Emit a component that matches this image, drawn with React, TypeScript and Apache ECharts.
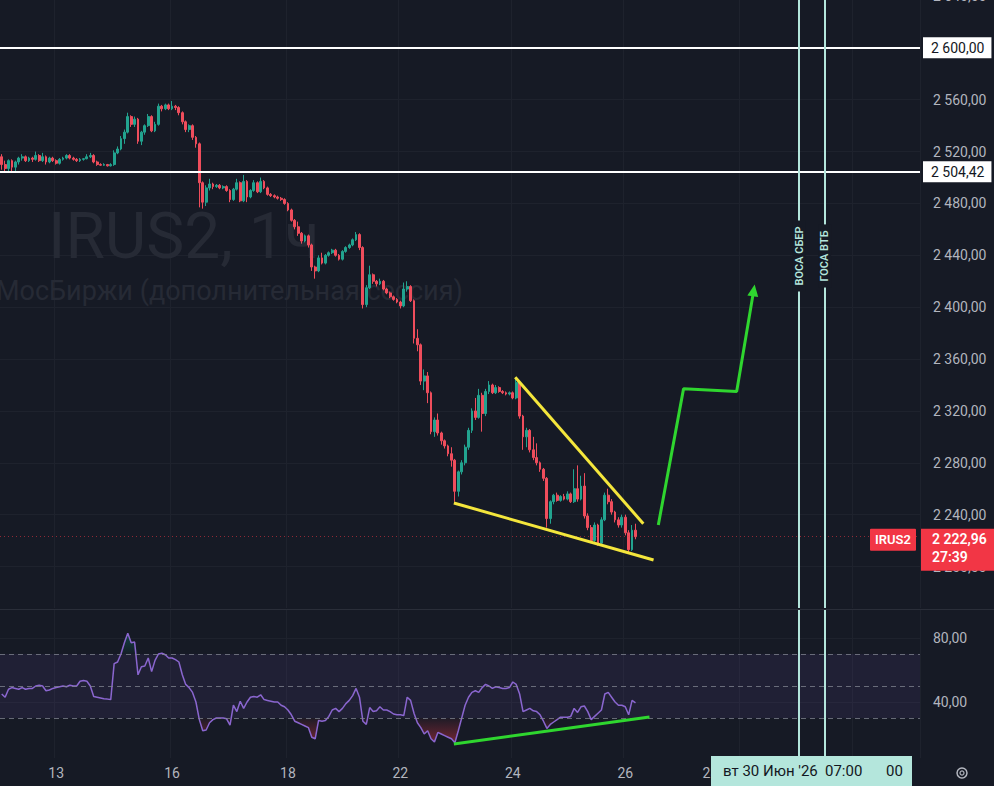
import React, { useEffect, useRef } from "react";
import * as echarts from "echarts";

// ---------- data ----------
const TOTAL_BARS = 270; // slots on the time axis, including empty future space

// hourly candles: [open, close, low, high]
const candles: number[][] = [
  [2516,2510,2506,2518],[2510,2507,2504,2513],[2507,2513,2505,2514],[2513,2508,2505,2514],[2508,2512,2504,2513],
  [2512,2515,2510,2516],[2515,2516,2513,2518],[2516,2513,2512,2517],[2513,2515,2512,2516],[2515,2514,2512,2516],
  [2514,2517,2513,2520],[2517,2513,2512,2518],[2513,2516,2512,2519],[2516,2512,2510,2517],[2512,2515,2511,2516],
  [2515,2513,2512,2516],[2513,2511,2510,2514],[2511,2514,2510,2515],[2514,2515,2513,2516],[2515,2517,2514,2518],
  [2517,2515,2514,2518],[2515,2514,2513,2516],[2514,2513,2512,2515],[2513,2514,2512,2515],[2514,2514.5,2513,2515],
  [2514.5,2516,2514,2518],[2516,2517,2515,2519],[2517,2512,2511,2518],[2512,2510,2509,2513],[2510,2509.5,2509,2511],
  [2509.5,2510,2509,2511],[2510,2509,2508.5,2510.5],[2509,2510,2508.5,2511],[2510,2519,2509,2521],[2519,2522,2518,2524],
  [2522,2530,2521,2532],[2530,2535,2526,2537],[2535,2547,2534,2550],[2547,2541,2539,2548],[2541,2545,2539,2547],
  [2545,2528,2526,2546],[2528,2535,2525,2536],[2535,2540,2533,2541],[2540,2547,2539,2549],[2547,2536,2535,2548],
  [2536,2541,2535,2543],[2541,2555,2540,2557],[2555,2553,2551,2556],[2553,2556,2552,2557],[2556,2553,2552,2557],
  [2553,2555,2552,2559],[2555,2554,2552,2556],[2554,2550,2548,2555],[2550,2543,2541,2551],[2543,2537,2535,2544],
  [2537,2540,2535,2541],[2540,2531,2529,2541],[2531,2526,2523,2532],[2526,2496,2477,2527],[2496,2481,2476,2497],
  [2481,2492,2478,2494],[2492,2495,2490,2499],[2495,2493,2491,2496],[2493,2494,2492,2495],[2494,2492,2491,2495],
  [2492,2493,2491,2494],[2493,2490,2489,2494],[2490,2483,2481,2491],[2483,2491,2482,2492],[2491,2496,2490,2499],
  [2496,2482,2481,2497],[2482,2497,2481,2502],[2497,2485,2481,2498],[2485,2490,2484,2491],[2490,2496,2489,2498],
  [2496,2489,2488,2497],[2489,2497,2488,2500],[2497,2492,2491,2498],[2492,2487,2486,2493],[2487,2486,2485,2488],
  [2486,2485,2484,2487],[2485,2484,2483,2486],[2484,2483,2482,2485],[2483,2480,2479,2484],[2480,2475,2474,2481],
  [2475,2467,2466,2476],[2467,2462,2460,2468],[2462,2457,2455,2466],[2457,2451,2449,2458],[2451,2455,2450,2456],
  [2455,2448,2446,2456],[2448,2431,2428,2449],[2431,2428,2422,2432],[2428,2438,2427,2440],[2438,2434,2433,2442],
  [2434,2440,2433,2441],[2440,2442,2439,2443],[2442,2444,2441,2445],[2444,2440,2439,2445],[2440,2437,2436,2441],
  [2437,2443,2436,2444],[2443,2446,2442,2447],[2446,2448,2445,2449],[2448,2452,2447,2453],[2452,2456,2451,2458],
  [2456,2446,2444,2457],[2446,2402,2399,2447],[2402,2415,2400,2417],[2415,2425,2414,2432],[2425,2420,2418,2426],
  [2420,2418,2416,2421],[2418,2420,2417,2422],[2420,2414,2413,2421],[2414,2411,2410,2415],[2411,2408,2407,2412],
  [2408,2406,2405,2409],[2406,2404,2403,2407],[2404,2401,2399,2405],[2401,2414,2400,2419],[2414,2416,2412,2420],
  [2416,2405,2404,2417],[2405,2376,2372,2406],[2376,2371,2366,2383],[2371,2343,2340,2372],[2343,2347,2336,2352],
  [2347,2334,2326,2350],[2334,2304,2302,2335],[2304,2313,2300,2315],[2313,2303,2301,2318],[2303,2297,2294,2304],
  [2297,2293,2291,2298],[2293,2287,2285,2294],[2287,2282,2277,2292],[2282,2258,2250,2283],[2258,2273,2254,2274],
  [2273,2280,2271,2282],[2280,2292,2278,2294],[2292,2305,2290,2307],[2305,2320,2303,2322],[2320,2315,2313,2330],
  [2315,2332,2314,2337],[2332,2318,2304,2334],[2318,2335,2316,2337],[2335,2340,2333,2343],[2340,2334,2333,2341],
  [2334,2338,2333,2340],[2338,2335,2334,2339],[2335,2334,2333,2336],[2334,2333,2332,2335],[2333,2334,2332,2335],
  [2334,2330,2329,2335],[2330,2342,2329,2346],[2342,2316,2314,2343],[2316,2300,2290,2317],[2300,2305,2292,2307],
  [2305,2290,2288,2306],[2290,2284,2282,2300],[2284,2280,2278,2295],[2280,2275,2273,2281],[2275,2268,2266,2276],
  [2268,2237,2230,2269],[2237,2250,2233,2251],[2250,2255,2248,2256],[2255,2251,2250,2257],[2251,2254,2250,2255],
  [2254,2252,2251,2256],[2252,2256,2251,2258],[2256,2250,2249,2257],[2250,2260,2249,2275],[2260,2252,2250,2278],
  [2252,2262,2251,2270],[2262,2239,2237,2272],[2239,2230,2228,2241],[2230,2220,2218,2232],[2220,2232,2219,2234],
  [2232,2218,2216,2233],[2218,2236,2217,2238],[2236,2255,2235,2257],[2255,2250,2248,2260],[2250,2242,2240,2252],
  [2242,2236,2234,2243],[2236,2232,2230,2238],[2232,2238,2230,2240],[2238,2226,2224,2240],[2226,2213,2211,2228],
  [2213,2228,2212,2232],[2228,2222.96,2221,2233],
];

// RSI(14), one value per candle
const rsi: number[] = [
  45,43,48,49,48.5,48,49,48,48.5,48.5,
  50,50.5,50,47,47.5,48.5,49,49.5,50,49.5,
  50.5,50,50,53,53.5,53,50,43.5,43,42.5,
  42,41.8,41.5,64,65,70,77,83,77,77.5,
  57,62,62.5,67.5,59,66,70,70.5,69.5,67.5,
  67.5,66.5,65,57,51,49,46,40,29,22,
  22.5,27,29,30,30,30,29.5,25.5,38,34,
  40.5,36,40,43,43.5,43,44.5,41.5,41,40.5,
  40,40,38,37,35,32,28,27,26,25,
  24,18,17,28.5,28,28.5,31,35,36,34,
  36,39,41,44,48.5,43,28,26,36.5,34,
  34.5,37,35,35,34,32.5,32,32,31.5,43,
  41,33,27,24,20,22,17,15,21,20,
  19,18,17,14.5,22,30,38,43,46,47,
  46,49,51,50,48.5,49.5,49,48.5,48.5,49,
  52.5,51,45,34,35,36,34.5,34,32,28,
  23.5,26,27.5,29,30.5,30.5,30.5,31,36,33.5,
  37,37.5,34,29,31,33,35,45,46,43,
  40,38,38,37,32,41,39.5,
];

const priceTicks = [2200, 2240, 2280, 2320, 2360, 2400, 2440, 2480, 2520, 2560, 2600, 2640];
const rsiTicks = [40, 80];
const rsiLevels = [70, 50, 30];
const dayLabels = ["13", "16", "18", "22", "24", "26", "28"];
const dayLabelBars = [16, 50, 84, 117, 150, 183, 208];
const dayGridBars = [16, 50, 84, 117, 150, 183, 217, 250];
const levelPrices = [2600, 2504.42];
const lastPrice = 2222.96;
const timeLeft = "27:39";
const symbolName = "IRUS2";

// user drawings: [bar index, price]
const wedgeUpper = [[150.7, 2346], [188.3, 2233]];
const wedgeLower = [[132.7, 2249], [191.3, 2205]];
const forecastPath = [[192.7, 2232], [200.1, 2337], [215.7, 2335], [220.7, 2413]];
const rsiTrend = [[132.7, 13.8], [190.1, 30.6]];
const eventBars = [234, 241.5];
const eventNames = ["ВОСА СБЕР", "ГОСА ВТБ"];

// ---------- style ----------
const FONT = "Roboto, 'Noto Sans', sans-serif";
const BG = "#161a25";
const GRID = "#1e222d";
const AXIS_TEXT = "#b2b5be";
const UP = "#22a38f";
const DOWN = "#ef4d5c";
const RED = "#f23645";
const EVENT = "#b3e5dc";
const YELLOW = "#f4e63c";
const GREEN = "#2fd62f";

const PRICE_MIN = 2168;
const PRICE_MAX = 2640;
const EVENT_LABEL_SPLIT = 2239;

function fmtPrice(v: number) {
  const [i, d] = Number(v).toFixed(2).split(".");
  return i.replace(/\B(?=(\d{3})+(?!\d))/g, " ") + "," + d;
}

const slots = Array.from({ length: TOTAL_BARS }, (_, i) => String(i));

function buildOption() {
  const oversoldBase = rsi.map((v) => Math.min(v, 30));
  const oversoldFill = rsi.map((v) => 30 - Math.min(v, 30));
  const overboughtBase = rsi.map(() => 70);
  const overboughtFill = rsi.map((v) => Math.max(v, 70) - 70);

  const drawingLine = (color: string) => ({
    type: "line",
    xAxisIndex: 2,
    yAxisIndex: 0,
    symbol: "none",
    silent: true,
    z: 6,
    lineStyle: { color, width: 3 },
    itemStyle: { color },
  });

  const eventMarkData: any[] = [];
  eventBars.forEach((bar, k) => {
    eventMarkData.push([
      {
        coord: [bar, EVENT_LABEL_SPLIT],
        label: {
          show: true,
          position: "insideMiddle",
          formatter: eventNames[k],
          color: EVENT,
          fontSize: 11,
          fontWeight: 600,
          fontFamily: FONT,
          backgroundColor: BG,
          padding: [1, 6],
        },
      },
      { coord: [bar, PRICE_MAX] },
    ]);
    eventMarkData.push([{ coord: [bar, EVENT_LABEL_SPLIT] }, { coord: [bar, PRICE_MIN] }]);
  });

  return {
    animation: false,
    backgroundColor: BG,
    textStyle: { fontFamily: FONT },
    grid: [
      { left: 0, right: 74, top: -4, height: 612, outerBoundsMode: "none", containLabel: false },
      { left: 0, right: 74, top: 610, height: 148, outerBoundsMode: "none", containLabel: false },
    ],
    xAxis: [
      {
        type: "category",
        gridIndex: 0,
        data: slots,
        axisLine: { show: false },
        axisTick: { show: false },
        axisLabel: { show: false },
        splitLine: {
          show: true,
          interval: (i: number) => dayGridBars.includes(i),
          lineStyle: { color: GRID, width: 1 },
        },
      },
      {
        type: "category",
        gridIndex: 1,
        data: slots,
        axisLine: { show: false },
        axisTick: { show: false },
        axisLabel: {
          show: true,
          interval: (i: number) => dayLabelBars.includes(i),
          formatter: (v: string) => {
            const k = dayLabelBars.indexOf(Number(v));
            return k >= 0 ? dayLabels[k] : "";
          },
          color: AXIS_TEXT,
          fontSize: 14,
          margin: 8,
          fontFamily: FONT,
        },
        splitLine: {
          show: true,
          interval: (i: number) => dayGridBars.includes(i),
          lineStyle: { color: GRID, width: 1 },
        },
      },
      { type: "value", gridIndex: 0, min: -0.5, max: TOTAL_BARS - 0.5, show: false },
      { type: "value", gridIndex: 1, min: -0.5, max: TOTAL_BARS - 0.5, show: false },
    ],
    yAxis: [
      {
        type: "value",
        gridIndex: 0,
        position: "right",
        min: PRICE_MIN,
        max: PRICE_MAX,
        axisLine: { show: false },
        axisTick: { show: false, customValues: priceTicks },
        axisLabel: {
          customValues: priceTicks,
          formatter: (v: number) => fmtPrice(v),
          color: AXIS_TEXT,
          fontSize: 14,
          margin: 13,
          fontFamily: FONT,
        },
        splitLine: { show: true, lineStyle: { color: GRID, width: 1 } },
      },
      {
        type: "value",
        gridIndex: 1,
        position: "right",
        min: 5,
        max: 97.5,
        axisLine: { show: false },
        axisTick: { show: false, customValues: rsiTicks },
        axisLabel: {
          customValues: rsiTicks,
          formatter: (v: number) => fmtPrice(v),
          color: AXIS_TEXT,
          fontSize: 14,
          margin: 13,
          fontFamily: FONT,
        },
        splitLine: { show: true, lineStyle: { color: GRID, width: 1 } },
      },
    ],
    series: [
      {
        type: "candlestick",
        xAxisIndex: 0,
        yAxisIndex: 0,
        data: candles,
        barWidth: "68%",
        silent: true,
        itemStyle: {
          color: UP,
          color0: DOWN,
          borderColor: UP,
          borderColor0: DOWN,
          borderWidth: 1,
        },
        markLine: {
          silent: true,
          symbol: ["none", "none"],
          data: [
            ...levelPrices.map((p) => ({
              yAxis: p,
              lineStyle: { color: "#ffffff", width: 2, type: "solid" },
              label: {
                show: true,
                position: "end",
                distance: 3,
                formatter: fmtPrice(p),
                color: "#131722",
                backgroundColor: "#ffffff",
                fontSize: 14,
                fontFamily: FONT,
                padding: [4, 7, 3, 8],
              },
            })),
            {
              yAxis: lastPrice,
              lineStyle: { color: "rgba(242,54,69,0.55)", width: 1, type: [1, 3] },
              label: { show: false },
            },
          ],
        },
      },
      {
        ...drawingLine(YELLOW),
        data: wedgeUpper,
        markLine: {
          silent: true,
          symbol: ["none", "none"],
          label: { show: false },
          lineStyle: { color: EVENT, width: 2, type: "solid" },
          data: eventMarkData,
        },
      },
      { ...drawingLine(YELLOW), data: wedgeLower },
      {
        ...drawingLine(GREEN),
        data: forecastPath.map((p, i) =>
          i === forecastPath.length - 1
            ? { value: p, symbol: "triangle", symbolSize: [11, 12], symbolRotate: -9 }
            : { value: p }
        ),
      },
      {
        type: "line",
        xAxisIndex: 1,
        yAxisIndex: 1,
        stack: "os",
        data: oversoldBase,
        symbol: "none",
        silent: true,
        lineStyle: { opacity: 0 },
        z: 2,
      },
      {
        type: "line",
        xAxisIndex: 1,
        yAxisIndex: 1,
        stack: "os",
        data: oversoldFill,
        symbol: "none",
        silent: true,
        lineStyle: { opacity: 0 },
        areaStyle: {
          color: new echarts.graphic.LinearGradient(0, 0, 0, 1, [
            { offset: 0, color: "rgba(242,54,69,0.05)" },
            { offset: 1, color: "rgba(242,54,69,0.6)" },
          ]),
        },
        z: 2,
      },
      {
        type: "line",
        xAxisIndex: 1,
        yAxisIndex: 1,
        stack: "ob",
        data: overboughtBase,
        symbol: "none",
        silent: true,
        lineStyle: { opacity: 0 },
        z: 2,
      },
      {
        type: "line",
        xAxisIndex: 1,
        yAxisIndex: 1,
        stack: "ob",
        data: overboughtFill,
        symbol: "none",
        silent: true,
        lineStyle: { opacity: 0 },
        areaStyle: {
          color: new echarts.graphic.LinearGradient(0, 0, 0, 1, [
            { offset: 0, color: "rgba(8,153,129,0.45)" },
            { offset: 1, color: "rgba(8,153,129,0.05)" },
          ]),
        },
        z: 2,
      },
      {
        type: "line",
        xAxisIndex: 1,
        yAxisIndex: 1,
        data: rsi,
        symbol: "none",
        silent: true,
        z: 4,
        lineStyle: { color: "#8a66cf", width: 1.5 },
        markArea: {
          silent: true,
          itemStyle: { color: "rgba(126,87,194,0.1)" },
          data: [[{ yAxis: 30 }, { yAxis: 70 }]],
        },
        markLine: {
          silent: true,
          symbol: ["none", "none"],
          label: { show: false },
          lineStyle: { color: "rgba(130,133,146,0.75)", width: 1, type: [5, 4] },
          data: rsiLevels.map((l) => ({ yAxis: l })),
        },
      },
      {
        type: "line",
        xAxisIndex: 3,
        yAxisIndex: 1,
        data: rsiTrend,
        symbol: "none",
        silent: true,
        z: 6,
        lineStyle: { color: GREEN, width: 3 },
        markLine: {
          silent: true,
          symbol: ["none", "none"],
          label: { show: false },
          lineStyle: { color: EVENT, width: 2, type: "solid" },
          data: eventBars.map((b) => ({ xAxis: b })),
        },
      },
    ],
  };
}

function buildGraphics(py: number) {
  const txt = (x: number, y: number, text: string, extra: any = {}) => ({
    type: "text",
    x,
    y,
    silent: true,
    z: extra.z ?? 51,
    style: {
      text,
      fill: extra.fill ?? "#ffffff",
      fontSize: extra.fontSize ?? 14,
      fontWeight: extra.fontWeight ?? "normal",
      fontFamily: FONT,
      align: extra.align ?? "left",
      verticalAlign: "middle",
    },
  });
  return [
    {
      type: "line",
      silent: true,
      z: 1,
      shape: { x1: 0, y1: 609.5, x2: 994, y2: 609.5 },
      style: { stroke: "#2a2e39", lineWidth: 1 },
    },
    txt(48, 236, "IRUS2, 1ч", { fill: "#262a35", fontSize: 64, z: 0 }),
    txt(-4, 291, "МосБиржи (дополнительная сессия)", { fill: "#262a35", fontSize: 27, z: 0 }),
    {
      type: "rect",
      silent: true,
      z: 50,
      shape: { x: 870, y: py - 8, width: 46, height: 22, r: 1 },
      style: { fill: RED },
    },
    txt(893, py + 3, symbolName, { fontSize: 13, fontWeight: 600, align: "center" }),
    {
      type: "rect",
      silent: true,
      z: 50,
      shape: { x: 921, y: py - 8, width: 73, height: 42 },
      style: { fill: RED },
    },
    txt(932, py + 2, fmtPrice(lastPrice), { fontSize: 14, fontWeight: 600 }),
    txt(932, py + 20, timeLeft, { fontSize: 14, fontWeight: 600 }),
    {
      type: "rect",
      silent: true,
      z: 50,
      shape: { x: 711, y: 756, width: 201, height: 30 },
      style: { fill: "#b4e6dc" },
    },
    txt(723, 771, "вт 30 Июн '26", { fill: "#131722", fontSize: 15 }),
    txt(825, 771, "07:00", { fill: "#131722", fontSize: 15 }),
    txt(886, 771, "00", { fill: "#131722", fontSize: 15 }),
    {
      type: "circle",
      silent: true,
      z: 50,
      shape: { cx: 962, cy: 773, r: 5 },
      style: { fill: "none", stroke: AXIS_TEXT, lineWidth: 1.5 },
    },
    {
      type: "circle",
      silent: true,
      z: 50,
      shape: { cx: 962, cy: 773, r: 2 },
      style: { fill: "none", stroke: AXIS_TEXT, lineWidth: 1.2 },
    },
  ];
}

export default function App() {
  const ref = useRef<HTMLDivElement>(null);
  useEffect(() => {
    if (!ref.current) return;
    const chart = echarts.init(ref.current, null, { renderer: "svg" });
    chart.setOption(buildOption() as any);
    const py = chart.convertToPixel({ yAxisIndex: 0 } as any, lastPrice) as number;
    chart.setOption({ graphic: buildGraphics(py) } as any);
    return () => chart.dispose();
  }, []);
  return (
    <div
      ref={ref}
      style={{ position: "fixed", left: 0, top: 0, width: 994, height: 786 }}
    />
  );
}
